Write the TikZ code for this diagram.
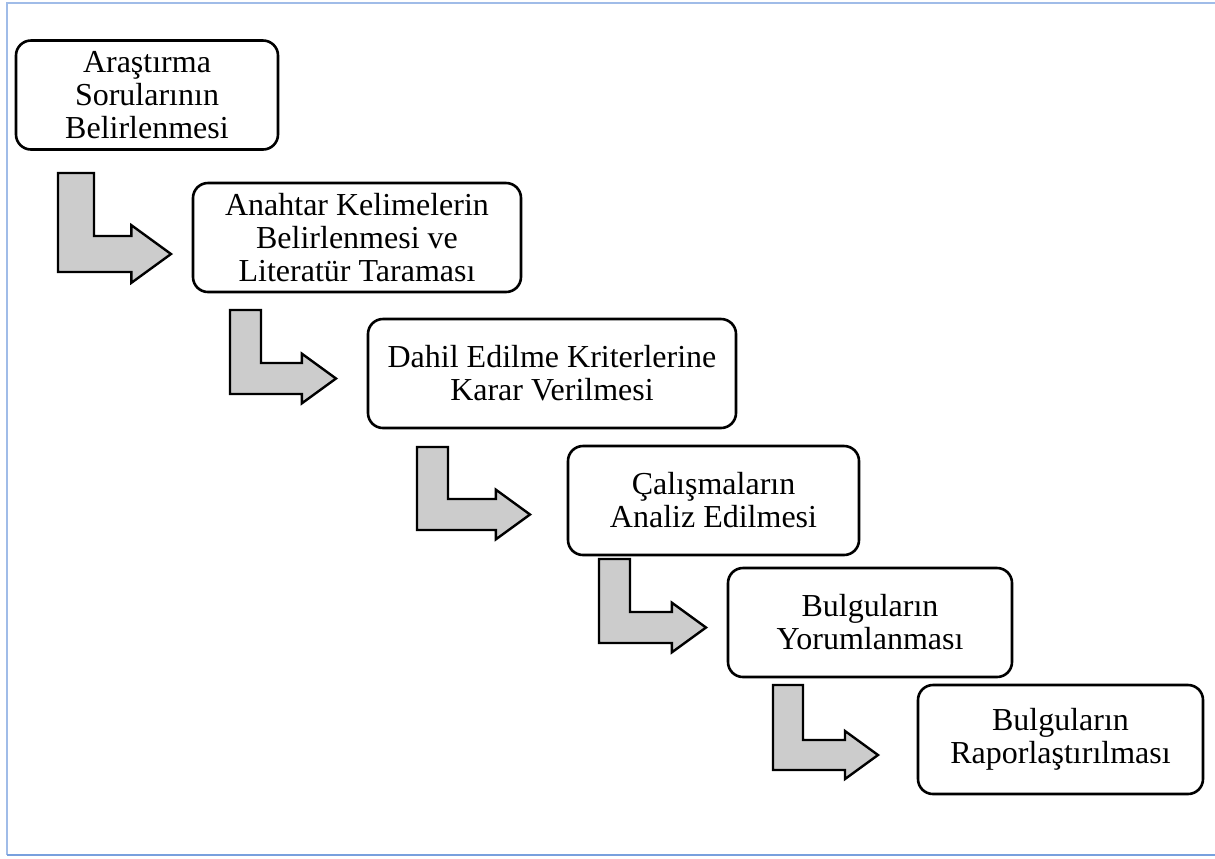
\documentclass[tikz,border=0pt]{standalone}
\usepackage{fontspec}
\setmainfont{Liberation Serif}
\usepackage{tikz}
\usetikzlibrary{positioning}
\definecolor{framecol}{RGB}{120,160,222}
\tikzset{
  stepbox/.style = {
    draw,
    line width=1.3pt,
    rounded corners=7.5pt,
    align=center,
    minimum height=54.5pt,
    font=\fontsize{16}{16.5}\selectfont
  },
  pics/bentarrow/.style args = {#1/#2/#3}{
    code = {
      % #1 width, #2 height of the shaft bottom, #3 shaft thickness
      \draw [line width=1.2pt,fill=black!20]
        (0,0) -- (#3,0) -- (#3,#2-#3) -- (#1-1.1*#3,#2-#3)
        -- (#1-1.1*#3,#2-1.3*#3) -- (#1,#2-0.5*#3)
        -- (#1-1.1*#3,#2+0.3*#3) -- (#1-1.1*#3,#2) -- (0,#2) -- cycle;
    }
  },
}
\begin{document}
\begin{tikzpicture}[x=0.5pt,y=-0.5pt]
  \useasboundingbox (0,0) rectangle (1215,858);

  % frame
  \coordinate (frame-tl) at (7,3);
  \coordinate (frame-tr) at (1215,3);
  \coordinate (frame-bl) at (7,855);
  \coordinate (frame-br) at (1215,855);
  \draw [framecol!70,line width=1pt] (frame-tr) -- (frame-tl) -- (frame-bl);
  \draw [framecol,line width=1pt] (frame-bl) -- (frame-br);

  \node [stepbox,minimum width=131pt] (questions) at (147,95)
    {Araştırma\\Sorularının\\Belirlenmesi};
  \node [stepbox,minimum width=164pt] (keywords) at (357,237.5)
    {Anahtar Kelimelerin\\Belirlenmesi ve\\Literatür Taraması};
  \node [stepbox,minimum width=184pt] (criteria) at (552,373.5)
    {Dahil Edilme Kriterlerine\\Karar Verilmesi};
  \node [stepbox,minimum width=145.5pt] (analysis) at (713.5,500.5)
    {Çalışmaların\\Analiz Edilmesi};
  \node [stepbox,minimum width=142pt] (interpret) at (870,622.5)
    {Bulguların\\Yorumlanması};
  \node [stepbox,minimum width=142.5pt] (report) at (1060.5,739.5)
    {Bulguların\\Raporlaştırılması};

  \pic at (58,173) {bentarrow=113/99/36};
  \pic at (230,310) {bentarrow=106/84/31};
  \pic at (417,447) {bentarrow=113/83/31};
  \pic at (599,559) {bentarrow=107/84/31};
  \pic at (773,685) {bentarrow=105/85/30};
\end{tikzpicture}
\end{document}
